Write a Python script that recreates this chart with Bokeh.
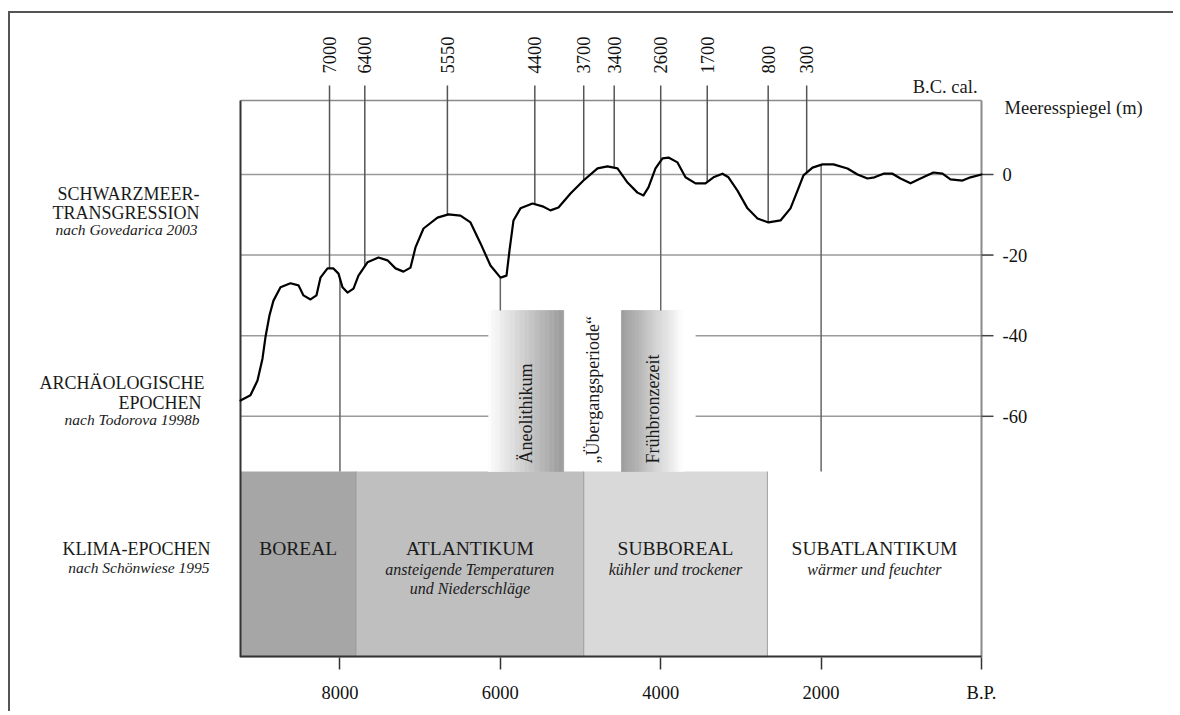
import math
import numpy as np
from bokeh.plotting import figure
from bokeh.models import Range1d, FixedTicker
from bokeh.core.properties import value
from bokeh.embed import file_html
from bokeh.resources import INLINE

FONT = "Liberation Serif"

# ---------------- data ----------------
# Black Sea transgression (years B.P., sea level in m)
curve_bp = [9240, 9116, 9028, 8966, 8929, 8879, 8829, 8741, 8617, 8517, 8455, 8367, 8293,
            8243, 8155, 8081, 8018, 7968, 7906, 7831, 7769, 7657, 7519, 7407, 7307, 7208,
            7120, 7058, 6958, 6784, 6647, 6497, 6372, 6247, 6123, 5998, 5923, 5886, 5836,
            5749, 5599, 5474, 5375, 5275, 5125, 4963, 4788, 4664, 4539, 4414, 4290, 4215,
            4153, 4065, 3978, 3903, 3791, 3691, 3566, 3442, 3342, 3230, 3155, 3043, 2918,
            2793, 2656, 2506, 2382, 2294, 2220, 2107, 1983, 1846, 1671, 1546, 1422, 1334,
            1222, 1110, 1010, 885, 761, 599, 486, 387, 237, 137, 0]
curve_m = [-56.1, -54.8, -51.1, -45.7, -40.4, -35.0, -31.3, -28.0, -27.0, -27.5, -30.0, -31.0, -30.0,
           -25.6, -23.3, -23.3, -24.6, -28.0, -29.3, -28.3, -25.1, -21.8, -20.6, -21.3, -23.3, -24.1,
           -23.1, -18.1, -13.4, -10.7, -9.9, -10.2, -11.9, -17.1, -22.6, -25.6, -25.1, -18.9, -11.4,
           -8.4, -7.2, -7.9, -8.9, -8.2, -4.7, -1.5, 1.5, 2.0, 1.5, -2.0, -4.5, -5.2,
           -3.2, 1.5, 4.0, 4.2, 3.0, -0.7, -2.2, -2.2, -0.7, 0.2, -0.7, -4.0, -8.4,
           -10.9, -11.9, -11.4, -8.4, -4.0, -0.2, 1.7, 2.5, 2.5, 1.5, 0.0, -1.0, -0.7,
           0.2, 0.2, -1.0, -2.2, -1.0, 0.5, 0.2, -1.2, -1.5, -0.7, 0.0]

# B.C. cal. marks (label, position on the B.P. scale)
bc_labels = ["7000", "6400", "5550", "4400", "3700", "3400", "2600", "1700", "800", "300"]
bc_pos_bp = [8130, 7690, 6660, 5570, 4960, 4580, 4000, 3420, 2660, 2180]

# B.P. axis
bp_ticks = [8000, 6000, 4000, 2000, 0]
bp_tick_labels = ["8000", "6000", "4000", "2000", "B.P."]
bp_line_band = ["klima", "arch", "arch", "klima"]

# sea level axis
sl_ticks = [0, -20, -40, -60]
sl_labels = ["0", "-20", "-40", "-60"]

# archaeological epochs (Todorova 1998b)
arch_names = ["Äneolithikum", "„Übergangsperiode“", "Frühbronzezeit"]
arch_start = [6150, 5210, 4490]
arch_end = [5210, 4490, 3715]

# climate epochs (Schönwiese 1995)
klima_names = ["BOREAL", "ATLANTIKUM", "SUBBOREAL", "SUBATLANTIKUM"]
klima_notes = [[], ["ansteigende Temperaturen", "und Niederschläge"],
               ["kühler und trockener"], ["wärmer und feuchter"]]
klima_start = [9240, 7800, 4960, 2670]
klima_end = [7800, 4960, 2670, 0]
klima_colors = ["#a6a6a6", "#bfbfbf", "#d9d9d9", "#ffffff"]

# ---------------- layout ----------------
# chart box in page pixels and its data extent
PX_L, PX_R, PX_T, PX_B = 240, 981, 100, 657
XB0, XB1 = 9240, 0
YB0, YB1 = -119.85, 18.36
kx = (XB0 - XB1) / (PX_R - PX_L)
ky = (YB1 - YB0) / (PX_B - PX_T)


def bx(px):
    return XB0 - (px - PX_L) * kx


def by(py):
    return YB1 - (py - PX_T) * ky


# page offset of the canvas: margin (8, 11) + 2px border
OFF_X, OFF_Y = 10, 13
W, H = 1165, 700
F_L, F_R, F_T = 20, 1165, 25   # frame edges in page pixels (bottom = PX_B)

ARCH_TOP, ARCH_BOT = by(310), by(471)
KLIMA_TOP = by(471)

p = figure(width=W, height=H,
           x_range=Range1d(bx(F_L), bx(F_R)), y_range=Range1d(YB0, by(F_T)),
           x_axis_location="below", y_axis_location=None,
           toolbar_location=None, output_backend="svg",
           min_border_left=F_L - OFF_X, min_border_right=(OFF_X + W) - F_R,
           min_border_top=F_T - OFF_Y, min_border_bottom=(OFF_Y + H) - PX_B)
p.margin = (11, 0, 0, 8)
p.styles = {"border-top": "2px solid #555555", "border-left": "2px solid #555555"}
p.xgrid.visible = False
p.ygrid.visible = False
p.outline_line_color = None
p.background_fill_color = "white"
p.border_fill_color = "white"

# bottom axis (B.P.)
xa = p.xaxis[0]
xa.ticker = FixedTicker(ticks=bp_ticks)
xa.major_label_overrides = {t: l for t, l in zip(bp_ticks, bp_tick_labels)}
xa.major_tick_out = 12
xa.major_tick_in = 0
xa.minor_tick_line_color = None
xa.axis_line_color = None
xa.major_tick_line_color = "#333333"
xa.major_tick_line_width = 1.5
xa.major_label_standoff = 13
xa.major_label_text_font = FONT
xa.major_label_text_font_size = "18.5px"
xa.major_label_text_color = "#111111"

# climate blocks
p.quad(left=klima_start, right=klima_end, bottom=YB0, top=KLIMA_TOP,
       fill_color=klima_colors, line_color=None)
p.segment(x0=klima_end[:-1], x1=klima_end[:-1], y0=YB0, y1=KLIMA_TOP,
          line_color="#9c9c9c", line_width=1)


# archaeological gradient blocks
def gradient(x_from, x_to, g_from, g_to, n=60):
    edges = np.linspace(x_from, x_to, n + 1)
    t = (np.arange(n) + 0.5) / n
    g = np.round(g_from + (g_to - g_from) * t).astype(int)
    cols = ["#%02x%02x%02x" % (v, v, v) for v in g]
    p.quad(left=edges[:-1], right=edges[1:], bottom=ARCH_BOT, top=ARCH_TOP,
           fill_color=cols, line_color=cols, line_width=0.6)


gradient(arch_start[0], arch_end[0], 255, 152)
gradient(arch_start[2], arch_end[2], 152, 255)

# horizontal grid lines (interrupted by the archaeological band below -20 m)
gx0, gx1, gy = [], [], []
for t in sl_ticks:
    if t >= -20:
        gx0.append(XB0); gx1.append(XB1); gy.append(t)
    else:
        gx0 += [XB0, arch_end[2] - 150]
        gx1 += [arch_start[0], XB1]
        gy += [t, t]
p.segment(x0=gx0, x1=gx1, y0=gy, y1=gy, line_color="#9a9a9a", line_width=1.5)

# chart box lines
p.segment(x0=[XB0, XB1], x1=[XB1, XB1], y0=[YB1, YB0], y1=[YB1, YB1],
          line_color="#8a8a8a", line_width=[1.5, 2])
p.segment(x0=[XB0], x1=[XB0], y0=[YB0], y1=[YB1], line_color="#333333", line_width=2)
p.segment(x0=[XB0], x1=[XB1], y0=[YB0], y1=[YB0], line_color="#333333", line_width=4)

# right (sea level) axis ticks and labels
tick_len = 12 * kx
p.segment(x0=[XB1] * len(sl_ticks), x1=[XB1 - tick_len] * len(sl_ticks), y0=sl_ticks, y1=sl_ticks,
          line_color="#444444", line_width=1.5)
p.text(x=[bx(1002)] * len(sl_ticks), y=sl_ticks, text=sl_labels, text_align="left",
       text_baseline="middle", text_font=value(FONT), text_font_size="18.5px",
       text_color="#111111")

# vertical lines: B.C. cal. marks from the top tick down to the curve
rbp = curve_bp[::-1]
rm = curve_m[::-1]
bc_end = np.interp(bc_pos_bp, rbp, rm)
p.segment(x0=bc_pos_bp, x1=bc_pos_bp, y0=[by(85)] * len(bc_pos_bp), y1=bc_end,
          line_color="#555555", line_width=1.5)
p.text(x=bc_pos_bp, y=[by(73)] * len(bc_pos_bp), text=bc_labels, angle=math.pi / 2,
       text_align="left", text_baseline="middle", text_font=value(FONT),
       text_font_size="18.5px", text_color="#111111")

# B.P. lines from the curve down to the epoch bands
bp_lines = bp_ticks[:-1]
bp_start = np.interp(bp_lines, rbp, rm)
bp_stop = [KLIMA_TOP if b == "klima" else ARCH_TOP for b in bp_line_band]
p.segment(x0=bp_lines, x1=bp_lines, y0=bp_start, y1=bp_stop,
          line_color="#666666", line_width=1.5)

# sea-level curve
p.line(curve_bp, curve_m, line_color="black", line_width=2.2, line_join="round",
       line_cap="round")

# archaeological texts
arch_mid = [(a + b) / 2 for a, b in zip(arch_start, arch_end)]
p.text(x=arch_mid, y=[by(463)] * 3, text=arch_names, angle=math.pi / 2,
       text_align="left", text_baseline="middle", text_font=value(FONT),
       text_font_size="18px", text_color="#1a1a1a")

# climate texts
k_mid = [(a + b) / 2 for a, b in zip(klima_start, klima_end)]
p.text(x=k_mid, y=[by(548)] * 4, text=klima_names, text_align="center",
       text_baseline="middle", text_font=value(FONT), text_font_size="19.5px",
       text_color="#1a1a1a")
nx, ny, nt = [], [], []
for xm, notes in zip(k_mid, klima_notes):
    for i, line in enumerate(notes):
        nx.append(xm); ny.append(by(569 + 19 * i)); nt.append(line)
p.text(x=nx, y=ny, text=nt, text_align="center", text_baseline="middle",
       text_font=value(FONT), text_font_size="16px", text_font_style="italic",
       text_color="#1a1a1a")

# side captions (page pixel layout)
caps = [("SCHWARZMEER-", 199, 193), ("TRANSGRESSION", 199, 212),
        ("ARCHÄOLOGISCHE", 204, 382), ("EPOCHEN", 201, 402),
        ("KLIMA-EPOCHEN", 210, 548)]
ital = [("nach Govedarica 2003", 197, 229), ("nach Todorova 1998b", 199, 419),
        ("nach Schönwiese 1995", 209, 567)]
p.text(x=[bx(c[1]) for c in caps], y=[by(c[2]) for c in caps], text=[c[0] for c in caps],
       text_align="right", text_baseline="middle", text_font=value(FONT),
       text_font_size="18px", text_color="#1a1a1a")
p.text(x=[bx(c[1]) for c in ital], y=[by(c[2]) for c in ital], text=[c[0] for c in ital],
       text_align="right", text_baseline="middle", text_font=value(FONT),
       text_font_size="15.5px", text_font_style="italic", text_color="#1a1a1a")
p.text(x=[bx(977), bx(1004)], y=[by(86), by(107)], text=["B.C. cal.", "Meeresspiegel (m)"],
       text_align=["right", "left"], text_baseline="middle", text_font=value(FONT),
       text_font_size="18.5px", text_color="#1a1a1a")

open("out.html", "w").write(file_html(p, INLINE))
